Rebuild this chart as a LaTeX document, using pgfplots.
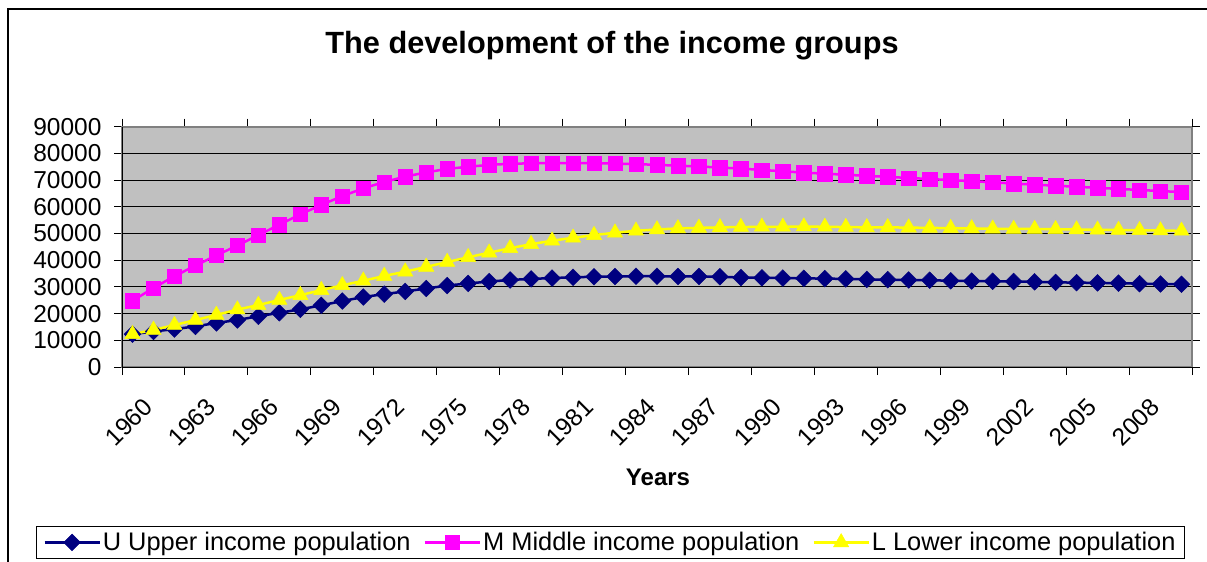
\documentclass[border=0pt]{standalone}
\usepackage{fontspec}
\setmainfont{Liberation Sans}
\usepackage{pgfplots}
\usepackage{pgfplotstable}
\pgfplotsset{compat=1.18}
\definecolor{plotgray}{HTML}{C0C0C0}
\definecolor{framegray}{HTML}{808080}
\definecolor{navyU}{HTML}{000080}
\definecolor{magM}{HTML}{FF00FF}
\definecolor{yelL}{HTML}{FFFF00}

\pgfplotstableread{
i U M L
0 12300 24800 12300
1 13300 29600 13900
2 14200 34000 15700
3 15200 38000 17600
4 16500 41800 19500
5 17600 45500 21500
6 19000 49400 23200
7 20300 53300 25100
8 21600 57200 26900
9 23100 60700 28800
10 24700 64000 30600
11 26200 66900 32300
12 27300 69300 34100
13 28300 71300 35700
14 29400 72900 37500
15 30500 74200 39300
16 31300 75000 41100
17 32000 75700 42800
18 32600 76100 44500
19 33000 76300 46000
20 33300 76400 47300
21 33600 76400 48400
22 33800 76300 49400
23 33900 76200 50300
24 34000 76000 51000
25 34000 75700 51500
26 33900 75400 51900
27 33900 75100 52100
28 33800 74700 52300
29 33500 74300 52400
30 33400 73800 52500
31 33300 73300 52500
32 33200 72800 52600
33 33100 72400 52500
34 33000 72000 52400
35 32800 71600 52300
36 32700 71200 52300
37 32600 70800 52200
38 32500 70400 52100
39 32300 70000 52000
40 32200 69600 51900
41 32100 69200 51800
42 32000 68700 51700
43 31900 68300 51700
44 31700 67900 51600
45 31600 67500 51500
46 31500 67100 51400
47 31400 66700 51300
48 31200 66300 51200
49 31100 65900 51100
50 31000 65500 51000
}\datatable

\begin{document}
\begin{tikzpicture}
\fill[white] (0pt,0pt) rectangle (1207pt,562pt);
\draw[black, line width=1.2pt] (8pt,0pt) -- (8pt,553pt) -- (1207pt,553pt);
\node[font=\fontsize{30.7pt}{36pt}\selectfont\bfseries] at (612pt,516pt) {The development of the income groups};
\node[font=\fontsize{24pt}{29pt}\selectfont\bfseries] at (658pt,85pt) {Years};
\begin{axis}[
  at={(122pt,195pt)}, anchor=south west,
  width=1070pt, height=240.3pt, scale only axis,
  xmin=-0.5, xmax=50.5, ymin=0, ymax=90000,
  ytick={0,10000,...,90000},
  scaled y ticks=false,
  yticklabel style={font=\fontsize{24.5pt}{29pt}\selectfont, xshift=-9pt, /pgf/number format/.cd, set thousands separator={}, assume math mode=true},
  xtick={-0.5,2.5,...,47.5},
  xticklabels={1960,1963,1966,1969,1972,1975,1978,1981,1984,1987,1990,1993,1996,1999,2002,2005,2008},
  extra x ticks={50.5}, extra x tick labels={},
  xticklabel style={font=\fontsize{24.5pt}{29pt}\selectfont, rotate=45, anchor=south east, inner sep=1pt, yshift=-48pt},
  ymajorgrids, major grid style={black, line width=0.9pt},
  tick align=outside, major tick length=8pt,
  tick style={black, line width=0.9pt},
  axis background/.style={fill=plotgray},
  axis line style={framegray, line width=2.2pt},
  after end axis/.code={\draw[black, line width=1pt] (rel axis cs:0,1) -- (rel axis cs:0,0) -- (rel axis cs:1,0);},
  legend columns=3,
  legend cell align=left,
  legend style={at={(0.4565,-0.73)}, anchor=center, draw=black, line width=0.9pt,
    font=\fontsize{25.4pt}{30pt}\selectfont, inner xsep=7pt, inner ysep=4pt,
    /tikz/every even column/.append style={column sep=11pt}},
  legend image code/.code={\draw[mark repeat=2,mark phase=2] plot coordinates {(0pt,0pt)(27.5pt,0pt)(55pt,0pt)};},
]
\addplot[navyU, line width=2.5pt, mark=square*, mark size=5.9pt, mark options={rotate=45, fill=navyU, draw=navyU, line width=0.5pt}] table[x=i, y=U] {\datatable};
\addlegendentry{U Upper income population}
\addplot[magM, line width=2.5pt, mark=square*, mark size=7.2pt, mark options={fill=magM, draw=magM, line width=0.5pt}] table[x=i, y=M] {\datatable};
\addlegendentry{M Middle income population}
\addplot[yelL, line width=2.5pt, mark=triangle*, mark size=8.8pt, mark options={fill=yelL, draw=yelL, line width=0.5pt}] table[x=i, y=L] {\datatable};
\addlegendentry{L Lower income population}
\end{axis}
\pgfresetboundingbox
\path[use as bounding box] (0pt,0pt) rectangle (1207pt,562pt);
\end{tikzpicture}
\end{document}
